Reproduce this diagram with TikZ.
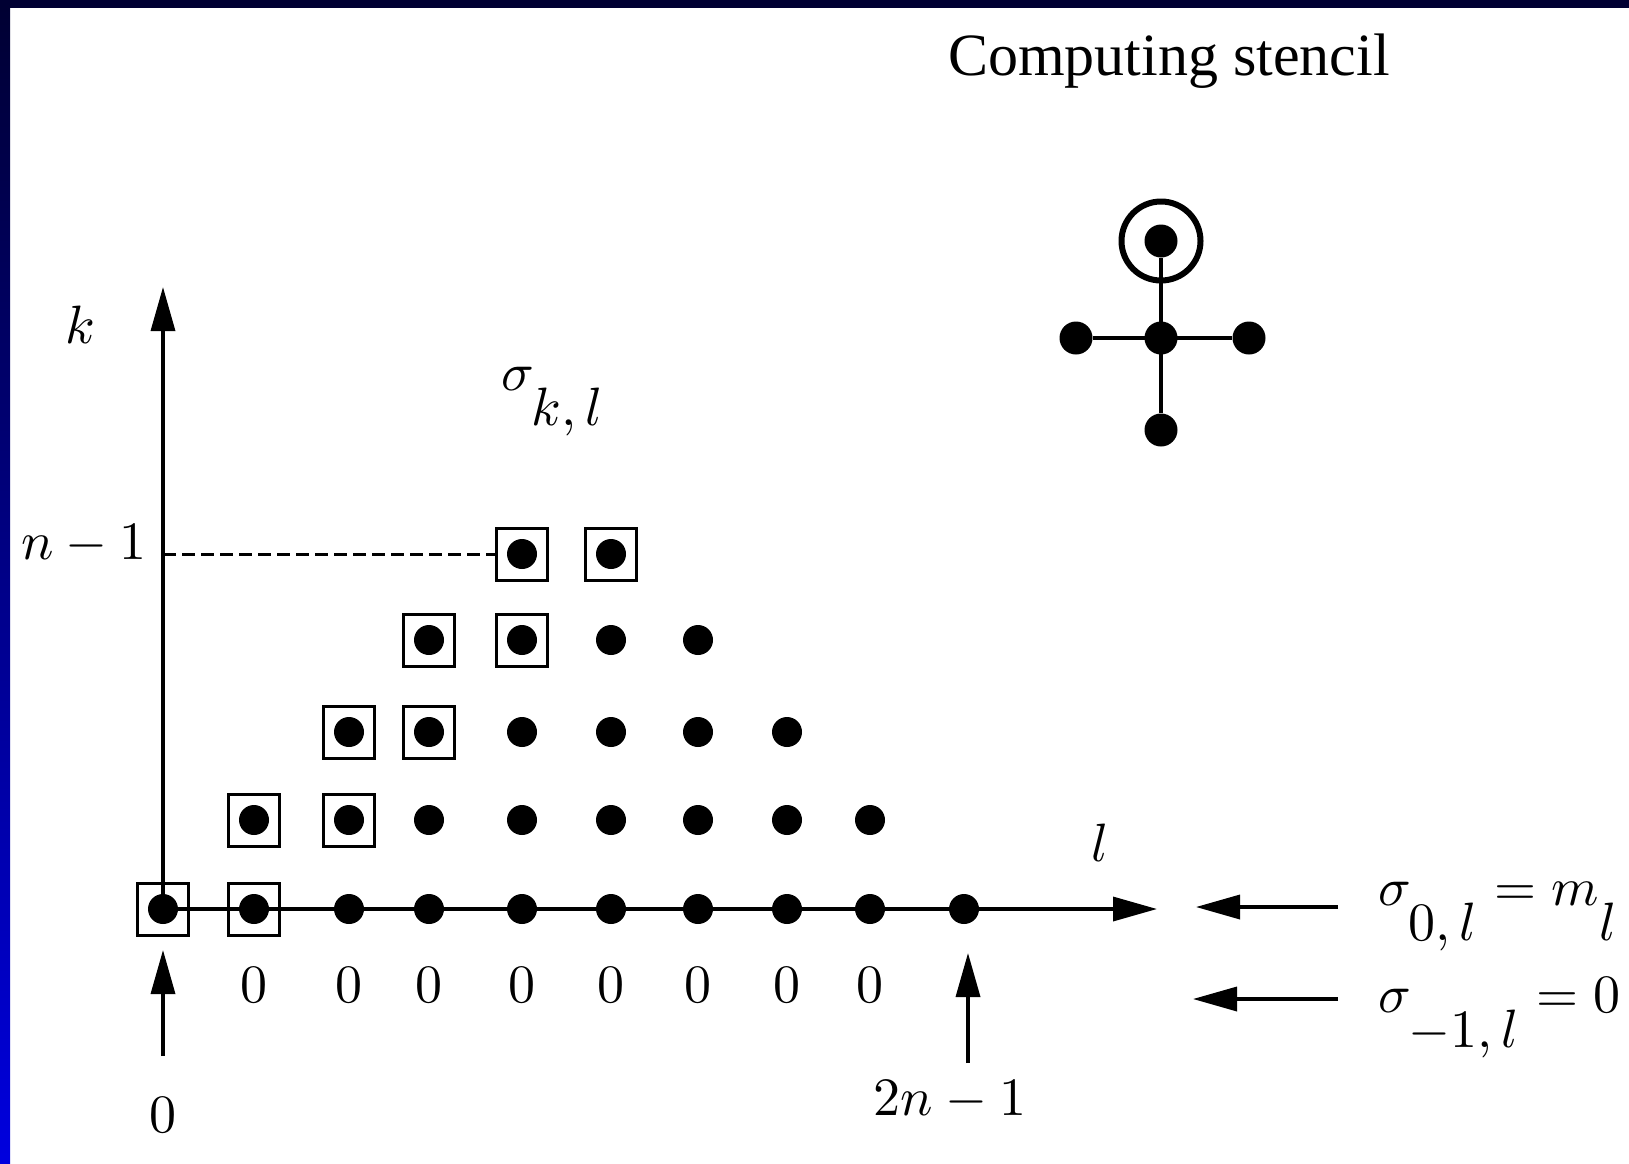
\documentclass[tikz,border=0pt]{standalone}
\usepackage{fontspec}
\setmainfont{Liberation Serif}
\usetikzlibrary{arrows.meta}

\definecolor{frametop}{RGB}{0,0,51}
\definecolor{framebot}{RGB}{0,0,222}
\newcommand\dropsub[1]{\raisebox{-0.5em}{$#1$}}

\tikzset{
  gdot/.style={circle, fill=black, inner sep=0pt, minimum size=30pt},
  markbox/.style={draw=black, line width=3pt, minimum width=51pt, minimum height=52pt, inner sep=0pt},
  arr/.style={line width=3.5pt, -{Triangle[length=44pt,width=24pt]}},
  lbl/.style={inner sep=0pt, scale=5.4, transform shape},
  stem/.style={line width=4pt},
}

\begin{document}
\begin{tikzpicture}[x=1pt, y=-1pt]
    % Frame and page
    \useasboundingbox (0,0) rectangle (1629,1163);
    \fill[white] (0,0) rectangle (1629,1163);
    \fill[frametop] (0,0) rectangle (1629,8);
    \shade[top color=frametop, bottom color=framebot] (0,8) rectangle (10,1163);

    % Title
    \node[font=\fontsize{60}{66}\selectfont, inner sep=0pt, anchor=base] (title) at (1169,75) {Computing stencil};

    % Axes
    \coordinate (o) at (163,909);
    \coordinate (ktop) at (163,287);
    \coordinate (lend) at (1157,909);
    \draw[arr] (o) -- (ktop);
    \draw[arr] (o) -- (lend);
    \node[lbl] (klab) at (80,325) {$k$};
    \node[lbl] (llab) at (1100,843) {$l$};

    % Grid of sigma values, boxed ones are the diagonal pairs
    \def\colx{{163,254,349,429,522,611,698,787,870,964}}
    \def\rowy{{909,820,732,640,554}}
    \foreach \k in {0,...,4}{
        \pgfmathtruncatemacro\last{9-\k}
        \foreach \c in {\k,...,\last}{
            \pgfmathsetmacro\xx{\colx[\c]}
            \pgfmathsetmacro\yy{\rowy[\k]}
            \node[gdot] (d-\k-\c) at (\xx,\yy) {};
        }
        \foreach \j in {0,1}{
            \pgfmathtruncatemacro\c{\k+\j}
            \node[markbox] (b-\k-\c) at (d-\k-\c) {};
        }
    }
    \draw[line width=3pt, dash pattern=on 13pt off 6pt] (o |- b-4-4.west) -- (b-4-4.west);
    \node[lbl] (nlab) at (84,544) {$n-1$};
    \node[lbl, anchor=base west] (skl) at (500,390) {$\sigma_{\dropsub{k,l}}$};

    % Zeros below the axis
    \foreach \c in {1,...,8}{
        \pgfmathsetmacro\xx{\colx[\c]}
        \node[lbl] (z-\c) at (\xx,985) {$0$};
    }

    % Index range
    \node[lbl] (lzero) at (163,1115) {$0$};
    \node[lbl] (lmax) at (950,1100) {$2n-1$};
    \coordinate (a0) at (163,1056);
    \coordinate (a0tip) at (163,950);
    \coordinate (a9) at (968,1063);
    \coordinate (a9tip) at (968,953);
    \draw[arr] (a0) -- (a0tip);
    \draw[arr] (a9) -- (a9tip);

    % Initial and boundary rows
    \coordinate (r1) at (1338,907);
    \coordinate (r1tip) at (1196,907);
    \coordinate (r2) at (1338,999);
    \coordinate (r2tip) at (1193,999);
    \draw[arr] (r1) -- (r1tip);
    \draw[arr] (r2) -- (r2tip);
    \node[lbl, anchor=base west] (init) at (1377,905) {$\sigma_{\dropsub{0,l}} = m_{\dropsub{l}}$};
    \node[lbl, anchor=base west] (bound) at (1377,1012) {$\sigma_{\dropsub{-1,l}} = 0$};

    % Stencil
    \node[gdot, minimum size=33pt] (sc) at (1161,338) {};
    \node[gdot, minimum size=33pt] (st) at (1161,241) {};
    \node[gdot, minimum size=33pt] (sl) at (1076,338) {};
    \node[gdot, minimum size=33pt] (sr) at (1249,338) {};
    \node[gdot, minimum size=33pt] (sb) at (1161,430) {};
    \node[draw, circle, line width=6pt, minimum size=79pt] (ring) at (st) {};
    \draw[stem] (st) -- (sb);
    \draw[stem] (sl) -- (sr);
\end{tikzpicture}
\end{document}
